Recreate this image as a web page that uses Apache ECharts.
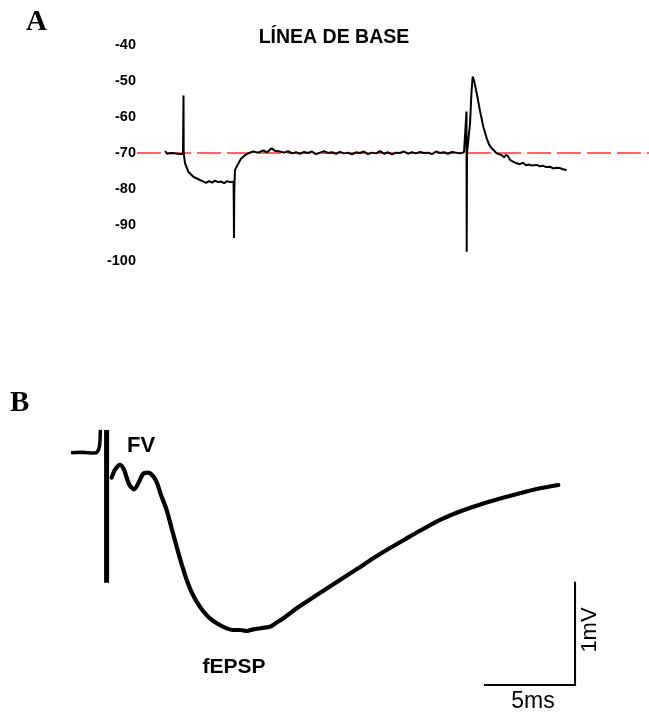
<!DOCTYPE html>
<html>
<head>
<meta charset="utf-8">
<script src="https://cdn.jsdelivr.net/npm/echarts@6/dist/echarts.min.js"></script>
<style>
html,body{margin:0;padding:0;background:#fff;}
#chart{width:649px;height:715px;}
</style>
</head>
<body>
<div id="chart"></div>
<script>
// ---------- Panel A: membrane potential trace (mV) ----------
const yTicksA = [-100, -90, -80, -70, -60, -50, -40];
const baselineMv = -70;
const baselineSpan = [-3, 509];

const traceA_t = [
  25,27,29,31,33,35,37,39,41,43,
  43.5,43.7,45,48.3,53.3,60,63,66,69,72,75,78,81,84,87,90,92,93.6,
  94,94.3,95,98.3,101,105,109,113.3,118,123.3,127,131.7,135,
  140,144,148,152,156,160,164,168,172,176,180,184,188,192,196,200,204,208,212,216,220,224,228,232,236,240,
  244,248,252,256,260,264,268,272,276,280,284,288,292,296,300,304,308,312,316,320,324,326,
  326.5,326.7,327,328.3,330,331.5,332.7,334,336.7,340,343.3,346.7,349,351.7,354,356.7,359,361.7,364,366,368.3,
  370,373,376,380,383,386,389,392,396.7,400,403,406,410,413,416,418,420,423,426.7
];
const traceA_mV = [
  -69.5,-70.2,-70.4,-70.0,-70.5,-70.1,-69.7,-70.3,-70.0,-70.2,
  -54.0,-70.0,-72.8,-75.2,-76.6,-77.5,-77.9,-78.3,-77.8,-78.2,-77.7,-78.1,-77.9,-78.4,-77.8,-78.1,-77.7,-78.0,
  -93.6,-80.0,-74.7,-72.9,-71.6,-70.6,-70.0,-69.6,-69.9,-69.3,-69.8,-68.7,-69.4,
  -69.6,-69.9,-69.5,-70.1,-69.8,-70.2,-69.7,-70.0,-69.6,-70.3,-69.9,-69.5,-70.0,-69.8,-70.2,-69.7,-70.1,-69.9,-70.4,-69.8,-70.0,-69.6,-70.3,-69.9,-70.1,-69.5,
  -70.2,-69.8,-70.4,-69.9,-70.0,-69.6,-70.2,-69.8,-70.1,-69.7,-70.0,-69.9,-70.3,-69.6,-70.0,-69.8,-70.2,-69.7,-69.9,-70.1,-69.8,-70.2,
  -58.5,-97.4,-70.0,-69.8,-62.0,-53.0,-48.8,-49.8,-53.4,-58.3,-62.7,-65.9,-67.6,-68.7,-69.3,-70.1,-70.3,-70.6,-71.2,-70.5,-71.0,
  -71.9,-72.4,-72.8,-73.1,-72.7,-73.4,-73.2,-73.5,-73.3,-73.7,-73.5,-73.9,-73.8,-74.3,-74.1,-73.6,-74.2,-74.5,-74.7
];

// ---------- Panel B: field potential (ms, mV) ----------
const preStim_ms = [0.6, 1.2, 1.7, 2.0, 2.1, 2.17, 2.2, 2.22];
const preStim_mV = [0, 0.005, -0.004, 0, 0.02, 0.06, 0.12, 0.22];
const artifact_ms = [2.56, 2.56];
const artifact_mV = [0.22, -1.26];

const traceB_ms = [
  2.84,3.02,3.30,3.52,3.79,4.07,4.34,4.56,4.85,5.11,5.31,5.55,5.86,6.13,6.41,6.68,6.96,7.23,7.51,7.86,
  8.24,8.68,9.16,9.51,9.89,10.27,10.62,11.10,11.54,11.87,12.27,12.91,13.55,14.45,15.38,16.32,17.21,18.13,
  19.05,19.95,20.88,21.76,22.71,23.63,24.54,25.44,26.37,27.38
];
const traceB_mV = [
  -0.242,-0.167,-0.119,-0.167,-0.303,-0.355,-0.284,-0.206,-0.194,-0.226,-0.284,-0.41,-0.555,-0.729,-0.91,-1.077,-1.232,-1.349,-1.442,-1.532,
  -1.603,-1.658,-1.70,-1.716,-1.716,-1.726,-1.71,-1.697,-1.684,-1.648,-1.603,-1.518,-1.442,-1.339,-1.232,-1.126,-1.022,-0.923,
  -0.829,-0.739,-0.651,-0.584,-0.523,-0.472,-0.426,-0.385,-0.345,-0.313
];

// scale bars: 5 ms horizontal, 1 mV vertical
const scaleBar_ms = [23.3, 28.3, 28.3];
const scaleBar_mV = [-2.249, -2.249, -1.249];

const zip = (a, b) => a.map((v, i) => [v, b[i]]);

const chart = echarts.init(document.getElementById('chart'), null, {renderer: 'canvas'});
const sans = 'Liberation Sans, Arial, sans-serif';
const serif = 'Liberation Serif, Times New Roman, serif';

chart.setOption({
  animation: false,
  backgroundColor: '#fff',
  grid: [
    {left: 137, right: 0, top: 45, height: 216},
    {left: 60, width: 546, top: 401, height: 310}
  ],
  xAxis: [
    {gridIndex: 0, type: 'value', min: baselineSpan[0], max: baselineSpan[1], show: false},
    {gridIndex: 1, type: 'value', min: 0, max: 30, show: false}
  ],
  yAxis: [
    {gridIndex: 0, type: 'value', min: yTicksA[0], max: yTicksA[yTicksA.length - 1], interval: 10,
     axisLine: {show: false}, axisTick: {show: false}, splitLine: {show: false},
     axisLabel: {color: '#000', fontFamily: sans, fontWeight: 'bold', fontSize: 14.5, margin: 1}},
    {gridIndex: 1, type: 'value', min: -2.5, max: 0.5, show: false}
  ],
  graphic: [
    {type: 'text', left: 26, top: 8, style: {text: 'A', font: 'bold 29px ' + serif, fill: '#000'}},
    {type: 'text', left: 10, top: 389, style: {text: 'B', font: 'bold 29px ' + serif, fill: '#000'}},
    {type: 'text', x: 334, y: 38, style: {text: 'LÍNEA DE BASE', font: 'bold 19.5px ' + sans, fill: '#000', textAlign: 'center', textVerticalAlign: 'middle'}},
    {type: 'text', x: 141, y: 446, style: {text: 'FV', font: 'bold 22px ' + sans, fill: '#000', textAlign: 'center', textVerticalAlign: 'middle'}},
    {type: 'text', x: 234, y: 667, style: {text: 'fEPSP', font: 'bold 21px ' + sans, fill: '#000', textAlign: 'center', textVerticalAlign: 'middle'}},
    {type: 'text', x: 533, y: 702, style: {text: '5ms', font: '23px ' + sans, fill: '#000', textAlign: 'center', textVerticalAlign: 'middle'}},
    {type: 'text', x: 590, y: 630, rotation: Math.PI / 2, style: {text: '1mV', font: '22px ' + sans, fill: '#000', textAlign: 'center', textVerticalAlign: 'middle'}}
  ],
  series: [
    {type: 'line', xAxisIndex: 0, yAxisIndex: 0, data: [[baselineSpan[0], baselineMv], [baselineSpan[1], baselineMv]],
     showSymbol: false, silent: true, z: 1,
     lineStyle: {color: '#ff3535', width: 1.3, type: [24, 6]}},
    {type: 'line', xAxisIndex: 0, yAxisIndex: 0, data: zip(traceA_t, traceA_mV),
     showSymbol: false, z: 2, lineStyle: {color: '#000', width: 2}},
    {type: 'line', xAxisIndex: 1, yAxisIndex: 1, data: zip(preStim_ms, preStim_mV),
     showSymbol: false, lineStyle: {color: '#000', width: 3.5}},
    {type: 'line', xAxisIndex: 1, yAxisIndex: 1, data: zip(artifact_ms, artifact_mV),
     showSymbol: false, lineStyle: {color: '#000', width: 5, cap: 'butt'}},
    {type: 'line', xAxisIndex: 1, yAxisIndex: 1, data: zip(traceB_ms, traceB_mV),
     showSymbol: false, smooth: 0.3, lineStyle: {color: '#000', width: 4.2, cap: 'round'}},
    {type: 'line', xAxisIndex: 1, yAxisIndex: 1, data: zip(scaleBar_ms, scaleBar_mV),
     showSymbol: false, lineStyle: {color: '#000', width: 2, cap: 'butt', join: 'miter'}}
  ]
});
</script>
</body>
</html>
